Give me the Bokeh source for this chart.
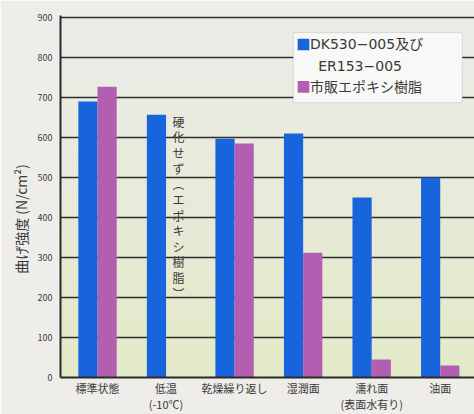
import numpy as np
from bokeh.plotting import figure
from bokeh.models import Range1d, FixedTicker, BoxAnnotation, Label
from bokeh.embed import file_html
from bokeh.resources import INLINE

categories = ["標準状態", "低温\n(-10℃)", "乾燥繰り返し", "湿潤面", "濡れ面\n(表面水有り)", "油面"]
dk_values = [690, 657, 597, 610, 450, 500]
epoxy_values = [727, 0, 585, 312, 45, 30]
y_ticks = [0, 100, 200, 300, 400, 500, 600, 700, 800, 900]
series_names = ["DK530−005及び", "ER153−005", "市販エポキシ樹脂"]
note_text = "硬化せず︵エポキシ樹脂︶"
y_label = "曲げ強度  (N/cm²)"

FONT = "Noto Sans CJK JP"
WFONT = "DejaVu Sans, Noto Sans CJK JP"
BLUE = "#1764dc"
PINK = "#b25fb1"
PAGE = "#eeede9"

p = figure(width=474, height=414, output_backend="svg", toolbar_location=None,
           x_range=Range1d(-0.54, 5.5), y_range=Range1d(0, 905),
           min_border_left=60, min_border_right=0, min_border_top=15, min_border_bottom=37)
p.border_fill_color = PAGE
p.background_fill_color = "#ebebe6"
p.outline_line_color = None

# background gradient (grey at top to pale yellow-green at bottom)
n = 60
edges = np.linspace(0, 905, n + 1)
top_c = np.array([0xec, 0xeb, 0xea])
bot_c = np.array([0xe2, 0xea, 0xc6])
cols = []
for i in range(n):
    t = (edges[i] + edges[i + 1]) / 2 / 905
    c = bot_c + (top_c - bot_c) * t
    cols.append("#%02x%02x%02x" % tuple(int(round(v)) for v in c))
bg = p.quad(left=-0.54, right=5.5, bottom=edges[:-1], top=edges[1:], fill_color=cols, line_color=None)
bg.level = "image"

xs = np.arange(len(categories))
bw = 0.28
p.vbar(x=xs - bw / 2, top=dk_values, width=bw, fill_color=BLUE, line_color=None)
p.vbar(x=xs + bw / 2, top=epoxy_values, width=bw, fill_color=PINK, line_color=None)

# grid
p.xgrid.grid_line_color = None
p.ygrid.ticker = FixedTicker(ticks=y_ticks)
p.ygrid.grid_line_color = "#2e2e2e"
p.ygrid.grid_line_width = 1.6

# axes
p.xaxis.ticker = FixedTicker(ticks=list(xs))
p.xaxis.major_label_overrides = {int(i): c for i, c in enumerate(categories)}
p.yaxis.ticker = FixedTicker(ticks=y_ticks)
for ax in (p.xaxis[0], p.yaxis[0]):
    ax.major_tick_line_color = None
    ax.minor_tick_line_color = None
    ax.major_tick_out = 0
    ax.major_tick_in = 0
    ax.minor_tick_out = 0
    ax.minor_tick_in = 0
    ax.axis_line_color = "#2b2b2b"
    ax.axis_line_width = 2
    ax.major_label_text_font = FONT
    ax.major_label_text_color = "#3a3a3a"
p.xaxis.major_label_text_font_size = "11px"
p.xaxis.major_label_text_line_height = 1.0
p.xaxis.major_label_standoff = 2
p.yaxis.major_label_text_font_size = "9px"
p.yaxis.major_label_standoff = 8
p.yaxis.axis_label = y_label + "\u3000\u3000\u3000"
p.yaxis.axis_label_text_font = FONT
p.yaxis.axis_label_text_font_size = "14px"
p.yaxis.axis_label_text_font_style = "normal"
p.yaxis.axis_label_text_color = "#3a3a3a"
p.yaxis.axis_label_standoff = 4

# legend (manual)
p.add_layout(BoxAnnotation(left=2.857, right=5.32, bottom=687, top=862,
                           fill_color="#f8f8f6", fill_alpha=1.0,
                           line_color="#9a9a9a", line_width=1))
p.add_layout(BoxAnnotation(left=2.92, right=3.09, bottom=818, top=847,
                           fill_color=BLUE, fill_alpha=1, line_color=None))
p.add_layout(BoxAnnotation(left=2.92, right=3.09, bottom=712, top=741,
                           fill_color=PINK, fill_alpha=1, line_color=None))
legend_pos = [(3.10, 833), (3.22, 778), (3.10, 726)]
for (lx, ly), txt in zip(legend_pos, series_names):
    p.add_layout(Label(x=lx, y=ly, text=txt, text_font=WFONT, text_font_size="14px",
                       text_color="#3a3a3a", text_baseline="middle", text_align="left"))

# vertical annotation
p.add_layout(Label(x=1.18, y=662, text="\n".join(note_text), text_font=FONT,
                   text_font_size="12px", text_color="#3a3a3a",
                   text_baseline="top", text_align="center", text_line_height=0.92))

open("out.html", "w").write(file_html(p, INLINE))
